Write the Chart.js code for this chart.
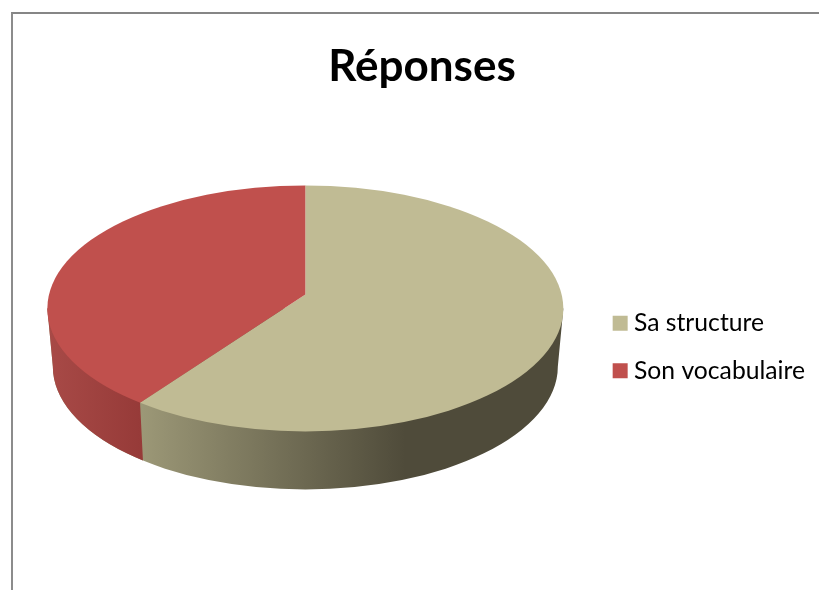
<!DOCTYPE html>
<html lang="fr">
<head>
<meta charset="utf-8">
<style>
html,body{margin:0;padding:0;background:#fff;overflow:hidden}
#wrap{position:absolute;left:0;top:0;width:819px;height:590px}
#frame{position:absolute;left:11px;top:12px;width:820px;height:600px;border-left:2px solid #8c8c8c;border-top:2px solid #868686;box-sizing:border-box}
canvas{position:absolute;left:0;top:0}
</style>
<script src="https://cdn.jsdelivr.net/npm/chart.js@4"></script>
</head>
<body>
<div id="wrap"><div id="frame"></div><canvas id="c" width="819" height="590"></canvas></div>
<script>
const chartTitle = "Réponses";
const categories = ["Sa structure", "Son vocabulaire"];
const seriesValues = [60, 40];
const topColors = ["#c0bb94", "#c0504d"];
const wallLight = ["#9c9877", "#a84a47"];
const wallDark = ["#4f4b3a", "#963a38"];

const RX = 258, RY = 123, OFFSET_Y = 14, DEPTH = 58, INSET = 5.5;
const LEGEND_SHIFT = { x: 10, y: 106 };
const TITLE_SHIFT = 7;

function rimPoint(cx, cy, angle) {
  const ratio = RY / RX;
  const dx = Math.cos(angle), dy = Math.sin(angle) * ratio;
  const a = dx*dx/(RX*RX) + dy*dy/(RY*RY);
  const b = -2*dy*OFFSET_Y/(RY*RY);
  const c = OFFSET_Y*OFFSET_Y/(RY*RY) - 1;
  const t = (-b + Math.sqrt(b*b - 4*a*c)) / (2*a);
  return {x: cx + dx*t, y: cy + dy*t};
}

const tiltedPie = {
  id: "tiltedPie",
  afterLayout(chart) {
    const l = chart.legend;
    l.left += LEGEND_SHIFT.x; l.right += LEGEND_SHIFT.x;
    l.top += LEGEND_SHIFT.y; l.bottom += LEGEND_SHIFT.y;
    const t = chart.titleBlock;
    t.left += TITLE_SHIFT; t.right += TITLE_SHIFT;
  },
  beforeDatasetsDraw(chart) {
    const ctx = chart.ctx;
    const arcs = chart.getDatasetMeta(0).data;
    const cx = arcs[0].x, cy = arcs[0].y, r = arcs[0].outerRadius;
    const ey = cy + OFFSET_Y;
    const split = rimPoint(cx, cy, arcs[0].endAngle);

    const wall = new Path2D();
    wall.moveTo(cx - RX, ey);
    wall.lineTo(cx - RX + INSET, ey + DEPTH);
    wall.ellipse(cx, ey + DEPTH, RX - INSET, RY, 0, Math.PI, 0, true);
    wall.lineTo(cx + RX, ey);
    wall.closePath();
    const bottomX = split.x + 3, bottomY = split.y + DEPTH + 2;

    ctx.save();
    const g0 = ctx.createLinearGradient(split.x, 0, cx + 100, 0);
    g0.addColorStop(0, wallLight[0]);
    g0.addColorStop(1, wallDark[0]);
    ctx.fillStyle = g0;
    ctx.fill(wall);

    const left = new Path2D();
    left.moveTo(cx - RX - 2, 0);
    left.lineTo(split.x, 0);
    left.lineTo(split.x, split.y);
    left.lineTo(bottomX, bottomY);
    left.lineTo(bottomX, chart.height);
    left.lineTo(cx - RX - 2, chart.height);
    left.closePath();
    ctx.clip(left);
    const g1 = ctx.createLinearGradient(cx - RX, 0, bottomX, 0);
    g1.addColorStop(0, wallLight[1]);
    g1.addColorStop(1, wallDark[1]);
    ctx.fillStyle = g1;
    ctx.fill(wall);
    ctx.restore();

    ctx.save();
    ctx.beginPath();
    ctx.ellipse(cx, ey, RX, RY, 0, 0, Math.PI * 2);
    ctx.clip();
    const sx = (RX + 40) / r, sy = sx * RY / RX;
    ctx.translate(cx, cy);
    ctx.scale(sx, sy);
    ctx.translate(-cx, -cy);
  },
  afterDatasetsDraw(chart) {
    chart.ctx.restore();
  }
};

new Chart(document.getElementById("c"), {
  type: "pie",
  data: {
    labels: categories,
    datasets: [{ data: seriesValues, backgroundColor: topColors, borderWidth: 0 }]
  },
  plugins: [tiltedPie],
  options: {
    responsive: false,
    animation: false,
    events: [],
    layout: { padding: { left: 25, right: 14, top: 0, bottom: 108 } },
    plugins: {
      tooltip: { enabled: false },
      title: {
        display: true,
        text: chartTitle,
        color: "#000",
        font: { family: "Lato", size: 44, weight: "bold" },
        padding: { top: 40, bottom: 14 }
      },
      legend: {
        position: "right",
        labels: {
          color: "#000",
          font: { family: "Lato", size: 24.7 },
          usePointStyle: true,
          pointStyle: "rect",
          boxWidth: 3, boxHeight: 15,
          padding: 23
        }
      }
    }
  }
});
</script>
</body>
</html>
